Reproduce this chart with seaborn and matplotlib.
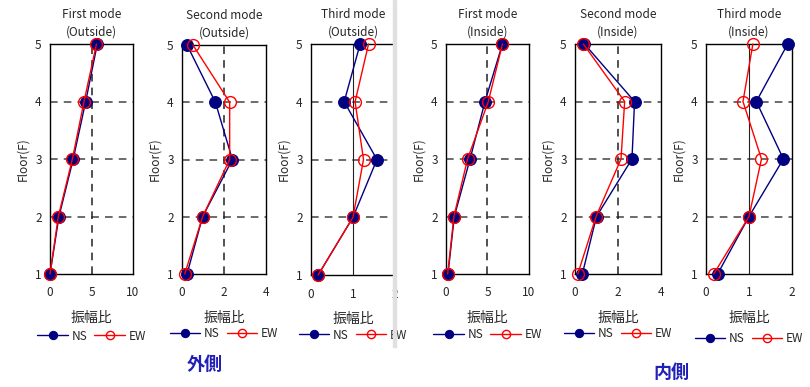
import matplotlib
matplotlib.use("Agg")
import matplotlib.pyplot as plt
import seaborn as sns
import pandas as pd
from matplotlib.patches import Rectangle

sns.set_style("white")
plt.rcParams['font.family'] = ['Noto Sans CJK JP', 'DejaVu Sans']

floors = [1, 2, 3, 4, 5]

titles = ["First mode\n(Outside)", "Second mode\n(Outside)", "Third mode\n(Outside)",
          "First mode\n(Inside)", "Second mode\n(Inside)", "Third mode\n(Inside)"]

# amplitude ratio per floor (1F..5F)
ns_1_out = [0.0, 1.08, 2.8, 4.3, 5.7]
ew_1_out = [0.0, 1.0, 2.7, 4.1, 5.6]
ns_2_out = [0.24, 0.98, 2.4, 1.59, 0.24]
ew_2_out = [0.13, 0.98, 2.27, 2.27, 0.52]
ns_3_out = [0.17, 1.0, 1.57, 0.79, 1.17]
ew_3_out = [0.17, 1.0, 1.25, 1.05, 1.37]
ns_1_in = [0.24, 1.0, 2.9, 4.7, 6.8]
ew_1_in = [0.2, 0.95, 2.6, 5.1, 6.8]
ns_2_in = [0.34, 1.0, 2.65, 2.77, 0.44]
ew_2_in = [0.13, 0.98, 2.14, 2.31, 0.39]
ns_3_in = [0.27, 1.0, 1.8, 1.17, 1.9]
ew_3_in = [0.18, 1.0, 1.29, 0.86, 1.09]

ns_all = [ns_1_out, ns_2_out, ns_3_out, ns_1_in, ns_2_in, ns_3_in]
ew_all = [ew_1_out, ew_2_out, ew_3_out, ew_1_in, ew_2_in, ew_3_in]
xmax = [10, 4, 2, 10, 4, 2]
xticks = [[0, 5, 10], [0, 2, 4], [0, 1, 2], [0, 5, 10], [0, 2, 4], [0, 1, 2]]
mid_solid = [False, False, True, False, False, True]

# axes boxes in pixels: left, right, top, bottom
boxes = [(50, 133, 44, 274), (182, 266, 45, 274), (311, 395, 44, 275),
         (446, 529, 44, 274), (575, 661, 44, 274), (706, 792, 44, 274)]
legend_y = [-0.27, -0.26, -0.26, -0.265, -0.26, -0.28]

W, H = 810, 387
fig = plt.figure(figsize=(W / 100, H / 100), dpi=100)

for i in range(6):
    l, r, t, b = boxes[i]
    ax = fig.add_axes([l / W, 1 - b / H, (r - l) / W, (b - t) / H])

    # grid lines
    for f in [2, 3, 4]:
        ax.axhline(f, color='#444444', lw=1.1, ls=(0, (5, 4)), zorder=1)
    mid = xmax[i] / 2
    if mid_solid[i]:
        ax.axvline(mid, color='#222222', lw=0.8, zorder=1)
    else:
        ax.axvline(mid, color='#222222', lw=1.1, ls=(0, (5, 4)), zorder=1)

    df_ns = pd.DataFrame({'amp': ns_all[i], 'floor': floors})
    df_ew = pd.DataFrame({'amp': ew_all[i], 'floor': floors})
    sns.lineplot(data=df_ns, x='amp', y='floor', orient='y', estimator=None, ax=ax,
                 color='#000080', lw=1, marker='o', markersize=8.5, mfc='#000080',
                 mec='#000080', label='NS', clip_on=False, zorder=3)
    sns.lineplot(data=df_ew, x='amp', y='floor', orient='y', estimator=None, ax=ax,
                 color='#ff0000', lw=1, marker='o', markersize=8.5, mfc='none',
                 mec='#ff0000', mew=1, label='EW', clip_on=False, zorder=4)

    ax.set_xlim(0, xmax[i])
    ax.set_ylim(1, 5)
    ax.set_xticks(xticks[i])
    ax.set_yticks(floors)
    ax.tick_params(axis='both', length=0, labelsize=8.5, pad=6)
    ax.tick_params(axis='x', pad=9)
    for s in ax.spines.values():
        s.set_color('black')
        s.set_linewidth(1)
    ax.set_title(titles[i], fontsize=8.5, pad=6, linespacing=1.45)
    ax.set_xlabel('振幅比', fontsize=10)
    ax.xaxis.set_label_coords(0.5, -0.16)
    ax.set_ylabel('Floor(F)', fontsize=8.5)
    ax.yaxis.set_label_coords(-21 / (r - l), 0.5)
    ax.legend(loc='center', bbox_to_anchor=(0.5, legend_y[i]), ncol=2, frameon=False,
              fontsize=8.5, markerscale=0.7, handlelength=2.6, columnspacing=0.6,
              handletextpad=0.3)

# gray divider between the two halves
fig.patches.append(Rectangle((393 / W, 1 - 347 / H), 3 / W, 347 / H,
                             transform=fig.transFigure, color='#e0e0e0', zorder=10))

fig.text(205 / W, 1 - 365 / H, '外側', color='#2020b8', fontsize=13,
         fontweight='bold', ha='center', va='center')
fig.text(671 / W, 1 - 373 / H, '内側', color='#2020b8', fontsize=13,
         fontweight='bold', ha='center', va='center')

fig.savefig('out.png', dpi=100)
